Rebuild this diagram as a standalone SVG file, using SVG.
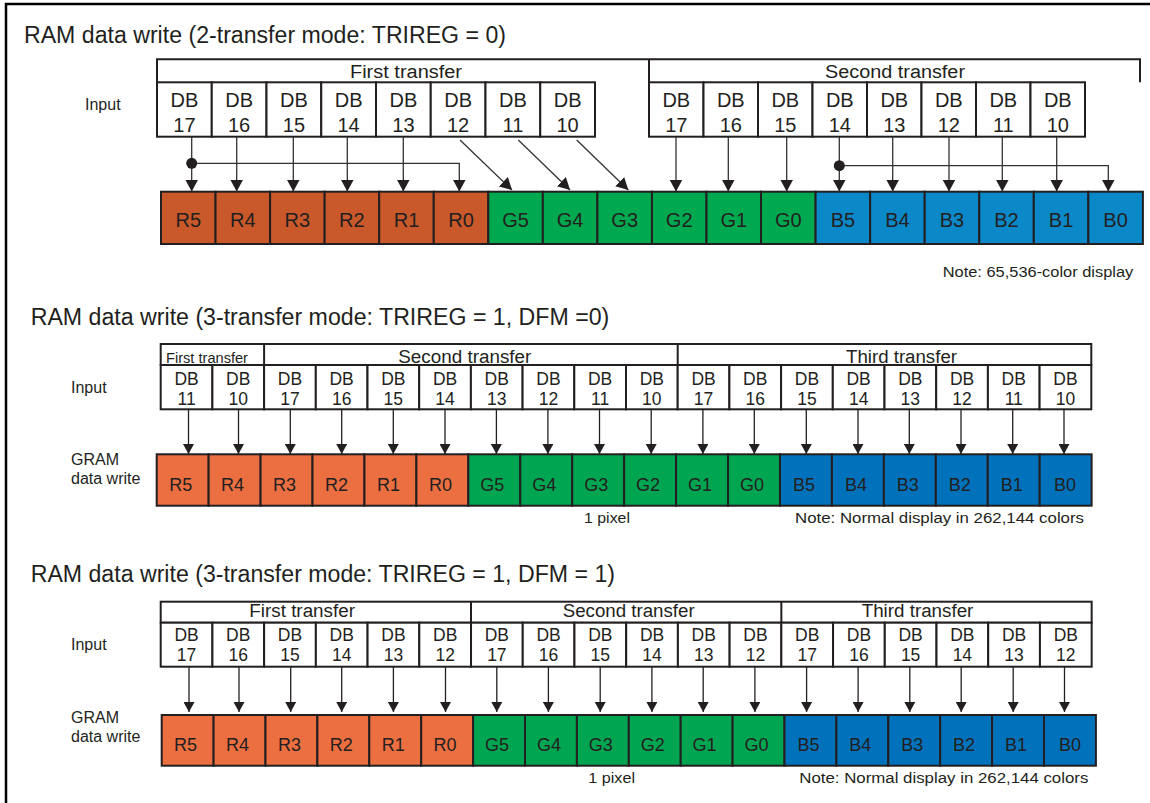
<svg xmlns="http://www.w3.org/2000/svg" width="1150" height="803" viewBox="0 0 1150 803">
<style>
.t{font-family:"Liberation Sans",Arial,Helvetica,sans-serif;fill:#231F20}
.title{font-size:23px}
.lbl{font-size:16px}
.hd{font-size:18px}
.db{font-size:20px;text-anchor:middle}
.db2{font-size:17.5px;text-anchor:middle}
.cl{font-size:20px;text-anchor:middle}
.cl2{font-size:18px;text-anchor:middle}
.note{font-size:15.5px}
.box{fill:#fff;stroke:#231F20;stroke-width:2}
.r1{fill:#C9582B;stroke:#231F20;stroke-width:2}
.g1{fill:#00A94F;stroke:#231F20;stroke-width:2}
.b1{fill:#0A88C8;stroke:#231F20;stroke-width:2}
.r2{fill:#EC6F41;stroke:#231F20;stroke-width:2}
.g2{fill:#00A551;stroke:#231F20;stroke-width:2}
.b2{fill:#0072BC;stroke:#231F20;stroke-width:2}
.ln{stroke:#231F20;stroke-width:2;fill:none}
.c1{stroke:#333;stroke-width:1.3;fill:none;marker-end:url(#ah1)}
.c2{stroke:#231F20;stroke-width:1.3;fill:none;marker-end:url(#ah2)}
</style>
<defs>
<marker id="ah1" markerUnits="userSpaceOnUse" markerWidth="12" markerHeight="13" viewBox="0 0 12 13" refX="12" refY="6.5" orient="auto"><path d="M0,0 L12,6.5 L0,13z" fill="#231F20"/></marker>
<marker id="ah2" markerUnits="userSpaceOnUse" markerWidth="10" markerHeight="11" viewBox="0 0 10 11" refX="10" refY="5.5" orient="auto"><path d="M0,0 L10,5.5 L0,11z" fill="#231F20"/></marker>
</defs>
<rect width="1150" height="803" fill="#fff"/>
<path d="M6,803 V4 H1150" fill="none" stroke="#000" stroke-width="2.5"/>

<!-- ============ Section 1 ============ -->
<g id="sec1">
<text class="t title" x="24" y="42.7" textLength="482" lengthAdjust="spacingAndGlyphs">RAM data write (2-transfer mode: TRIREG = 0)</text>
<text class="t lbl" x="85" y="110">Input</text>
<g id="s1-header">
<path class="ln" d="M157,82.3 V59.3 H1140 V82.3"/>
<line class="ln" x1="649" y1="59.3" x2="649" y2="82.3"/>
<text class="t hd" x="350" y="78.3" textLength="112" lengthAdjust="spacingAndGlyphs">First transfer</text>
<text class="t hd" x="825" y="78.3" textLength="140" lengthAdjust="spacingAndGlyphs">Second transfer</text>
</g>
<g id="s1-in-1a"><rect class="box" x="157" y="82.3" width="54.75" height="54.4"/><text class="t db" x="184.4" y="107">DB</text><text class="t db" x="184.4" y="131.5">17</text></g>
<g id="s1-in-1b"><rect class="box" x="211.75" y="82.3" width="54.75" height="54.4"/><text class="t db" x="239.1" y="107">DB</text><text class="t db" x="239.1" y="131.5">16</text></g>
<g id="s1-in-1c"><rect class="box" x="266.5" y="82.3" width="54.75" height="54.4"/><text class="t db" x="293.9" y="107">DB</text><text class="t db" x="293.9" y="131.5">15</text></g>
<g id="s1-in-1d"><rect class="box" x="321.25" y="82.3" width="54.75" height="54.4"/><text class="t db" x="348.6" y="107">DB</text><text class="t db" x="348.6" y="131.5">14</text></g>
<g id="s1-in-1e"><rect class="box" x="376" y="82.3" width="54.75" height="54.4"/><text class="t db" x="403.4" y="107">DB</text><text class="t db" x="403.4" y="131.5">13</text></g>
<g id="s1-in-1f"><rect class="box" x="430.75" y="82.3" width="54.75" height="54.4"/><text class="t db" x="458.1" y="107">DB</text><text class="t db" x="458.1" y="131.5">12</text></g>
<g id="s1-in-1g"><rect class="box" x="485.5" y="82.3" width="54.75" height="54.4"/><text class="t db" x="512.9" y="107">DB</text><text class="t db" x="512.9" y="131.5">11</text></g>
<g id="s1-in-1h"><rect class="box" x="540.25" y="82.3" width="54.75" height="54.4"/><text class="t db" x="567.6" y="107">DB</text><text class="t db" x="567.6" y="131.5">10</text></g>
<g id="s1-in-2a"><rect class="box" x="649" y="82.3" width="54.5" height="54.4"/><text class="t db" x="676.3" y="107">DB</text><text class="t db" x="676.3" y="131.5">17</text></g>
<g id="s1-in-2b"><rect class="box" x="703.5" y="82.3" width="54.5" height="54.4"/><text class="t db" x="730.8" y="107">DB</text><text class="t db" x="730.8" y="131.5">16</text></g>
<g id="s1-in-2c"><rect class="box" x="758" y="82.3" width="54.5" height="54.4"/><text class="t db" x="785.3" y="107">DB</text><text class="t db" x="785.3" y="131.5">15</text></g>
<g id="s1-in-2d"><rect class="box" x="812.5" y="82.3" width="54.5" height="54.4"/><text class="t db" x="839.8" y="107">DB</text><text class="t db" x="839.8" y="131.5">14</text></g>
<g id="s1-in-2e"><rect class="box" x="867" y="82.3" width="54.5" height="54.4"/><text class="t db" x="894.3" y="107">DB</text><text class="t db" x="894.3" y="131.5">13</text></g>
<g id="s1-in-2f"><rect class="box" x="921.5" y="82.3" width="54.5" height="54.4"/><text class="t db" x="948.8" y="107">DB</text><text class="t db" x="948.8" y="131.5">12</text></g>
<g id="s1-in-2g"><rect class="box" x="976" y="82.3" width="54.5" height="54.4"/><text class="t db" x="1003.3" y="107">DB</text><text class="t db" x="1003.3" y="131.5">11</text></g>
<g id="s1-in-2h"><rect class="box" x="1030.5" y="82.3" width="54.5" height="54.4"/><text class="t db" x="1057.8" y="107">DB</text><text class="t db" x="1057.8" y="131.5">10</text></g>

<g id="s1-R5"><rect class="r1" x="161" y="191.7" width="54.55" height="52.3"/><text class="t cl" x="188.3" y="226.7">R5</text></g>
<g id="s1-R4"><rect class="r1" x="215.55" y="191.7" width="54.55" height="52.3"/><text class="t cl" x="242.8" y="226.7">R4</text></g>
<g id="s1-R3"><rect class="r1" x="270.1" y="191.7" width="54.55" height="52.3"/><text class="t cl" x="297.4" y="226.7">R3</text></g>
<g id="s1-R2"><rect class="r1" x="324.65" y="191.7" width="54.55" height="52.3"/><text class="t cl" x="351.9" y="226.7">R2</text></g>
<g id="s1-R1"><rect class="r1" x="379.2" y="191.7" width="54.55" height="52.3"/><text class="t cl" x="406.5" y="226.7">R1</text></g>
<g id="s1-R0"><rect class="r1" x="433.75" y="191.7" width="54.55" height="52.3"/><text class="t cl" x="461" y="226.7">R0</text></g>
<g id="s1-G5"><rect class="g1" x="488.3" y="191.7" width="54.55" height="52.3"/><text class="t cl" x="515.6" y="226.7">G5</text></g>
<g id="s1-G4"><rect class="g1" x="542.85" y="191.7" width="54.55" height="52.3"/><text class="t cl" x="570.1" y="226.7">G4</text></g>
<g id="s1-G3"><rect class="g1" x="597.4" y="191.7" width="54.55" height="52.3"/><text class="t cl" x="624.7" y="226.7">G3</text></g>
<g id="s1-G2"><rect class="g1" x="651.95" y="191.7" width="54.55" height="52.3"/><text class="t cl" x="679.2" y="226.7">G2</text></g>
<g id="s1-G1"><rect class="g1" x="706.5" y="191.7" width="54.55" height="52.3"/><text class="t cl" x="733.8" y="226.7">G1</text></g>
<g id="s1-G0"><rect class="g1" x="761.05" y="191.7" width="54.55" height="52.3"/><text class="t cl" x="788.3" y="226.7">G0</text></g>
<g id="s1-B5"><rect class="b1" x="815.6" y="191.7" width="54.55" height="52.3"/><text class="t cl" x="842.9" y="226.7">B5</text></g>
<g id="s1-B4"><rect class="b1" x="870.15" y="191.7" width="54.55" height="52.3"/><text class="t cl" x="897.4" y="226.7">B4</text></g>
<g id="s1-B3"><rect class="b1" x="924.7" y="191.7" width="54.55" height="52.3"/><text class="t cl" x="952" y="226.7">B3</text></g>
<g id="s1-B2"><rect class="b1" x="979.25" y="191.7" width="54.55" height="52.3"/><text class="t cl" x="1006.5" y="226.7">B2</text></g>
<g id="s1-B1"><rect class="b1" x="1033.8" y="191.7" width="54.55" height="52.3"/><text class="t cl" x="1061.1" y="226.7">B1</text></g>
<g id="s1-B0"><rect class="b1" x="1088.35" y="191.7" width="54.55" height="52.3"/><text class="t cl" x="1115.6" y="226.7">B0</text></g>
<text class="t note" x="942.7" y="276.7" textLength="190.6" lengthAdjust="spacingAndGlyphs">Note: 65,536-color display</text>
</g>

<g id="s1-connectors">
<line class="c1" x1="191.7" y1="137" x2="191.7" y2="191.5"/>
<line class="c1" x1="236.7" y1="137" x2="236.7" y2="191.5"/>
<line class="c1" x1="293.3" y1="137" x2="293.3" y2="191.5"/>
<line class="c1" x1="347.3" y1="137" x2="347.3" y2="191.5"/>
<line class="c1" x1="403.3" y1="137" x2="403.3" y2="191.5"/>
<path class="c1" d="M191.7,163.3 H459.3 V191.5"/>
<circle cx="191.7" cy="163.3" r="5.5" fill="#231F20"/>
<line class="c1" x1="460" y1="140" x2="512" y2="190"/>
<line class="c1" x1="518.3" y1="140" x2="570" y2="190"/>
<line class="c1" x1="576.7" y1="140" x2="628.3" y2="190"/>
<line class="c1" x1="676" y1="137" x2="676" y2="191.5"/>
<line class="c1" x1="728.3" y1="137" x2="728.3" y2="191.5"/>
<line class="c1" x1="786.7" y1="137" x2="786.7" y2="191.5"/>
<line class="c1" x1="839.3" y1="137" x2="839.3" y2="191.5"/>
<path class="c1" d="M839.3,165.7 H1108.3 V191.5"/>
<circle cx="839.3" cy="165.7" r="5.5" fill="#231F20"/>
<line class="c1" x1="892.7" y1="137" x2="892.7" y2="191.5"/>
<line class="c1" x1="949" y1="137" x2="949" y2="191.5"/>
<line class="c1" x1="1002.3" y1="137" x2="1002.3" y2="191.5"/>
<line class="c1" x1="1056.7" y1="137" x2="1056.7" y2="191.5"/>
</g>

<!-- ============ Section 2 ============ -->
<g id="sec2">
<text class="t title" x="30.7" y="325" textLength="578.6" lengthAdjust="spacingAndGlyphs">RAM data write (3-transfer mode: TRIREG = 1, DFM =0)</text>
<text class="t lbl" x="71" y="393.3">Input</text>
<text class="t lbl" x="71" y="465">GRAM</text>
<text class="t lbl" x="71" y="484">data write</text>
<g id="s2-header">
<rect class="box" x="160.7" y="344" width="930.6" height="21"/>
<line class="ln" x1="264.1" y1="344" x2="264.1" y2="365"/>
<line class="ln" x1="677.7" y1="344" x2="677.7" y2="365"/>
<text class="t" style="font-size:14px" x="166" y="362.7" textLength="82" lengthAdjust="spacingAndGlyphs">First transfer</text>
<text class="t hd" x="398.3" y="362.7" textLength="133" lengthAdjust="spacingAndGlyphs">Second transfer</text>
<text class="t hd" x="846" y="362.7" textLength="111" lengthAdjust="spacingAndGlyphs">Third transfer</text>
</g>
<g id="s2-in-01"><rect class="box" x="160.7" y="365" width="51.7" height="44.3"/><text class="t db2" x="186.55" y="384.5">DB</text><text class="t db2" x="186.55" y="405">11</text></g>
<g id="s2-in-02"><rect class="box" x="212.4" y="365" width="51.7" height="44.3"/><text class="t db2" x="238.25" y="384.5">DB</text><text class="t db2" x="238.25" y="405">10</text></g>
<g id="s2-in-03"><rect class="box" x="264.1" y="365" width="51.7" height="44.3"/><text class="t db2" x="289.95" y="384.5">DB</text><text class="t db2" x="289.95" y="405">17</text></g>
<g id="s2-in-04"><rect class="box" x="315.8" y="365" width="51.7" height="44.3"/><text class="t db2" x="341.65" y="384.5">DB</text><text class="t db2" x="341.65" y="405">16</text></g>
<g id="s2-in-05"><rect class="box" x="367.5" y="365" width="51.7" height="44.3"/><text class="t db2" x="393.35" y="384.5">DB</text><text class="t db2" x="393.35" y="405">15</text></g>
<g id="s2-in-06"><rect class="box" x="419.2" y="365" width="51.7" height="44.3"/><text class="t db2" x="445.05" y="384.5">DB</text><text class="t db2" x="445.05" y="405">14</text></g>
<g id="s2-in-07"><rect class="box" x="470.9" y="365" width="51.7" height="44.3"/><text class="t db2" x="496.75" y="384.5">DB</text><text class="t db2" x="496.75" y="405">13</text></g>
<g id="s2-in-08"><rect class="box" x="522.6" y="365" width="51.7" height="44.3"/><text class="t db2" x="548.45" y="384.5">DB</text><text class="t db2" x="548.45" y="405">12</text></g>
<g id="s2-in-09"><rect class="box" x="574.3" y="365" width="51.7" height="44.3"/><text class="t db2" x="600.15" y="384.5">DB</text><text class="t db2" x="600.15" y="405">11</text></g>
<g id="s2-in-10"><rect class="box" x="626" y="365" width="51.7" height="44.3"/><text class="t db2" x="651.85" y="384.5">DB</text><text class="t db2" x="651.85" y="405">10</text></g>
<g id="s2-in-11"><rect class="box" x="677.7" y="365" width="51.7" height="44.3"/><text class="t db2" x="703.55" y="384.5">DB</text><text class="t db2" x="703.55" y="405">17</text></g>
<g id="s2-in-12"><rect class="box" x="729.4" y="365" width="51.7" height="44.3"/><text class="t db2" x="755.25" y="384.5">DB</text><text class="t db2" x="755.25" y="405">16</text></g>
<g id="s2-in-13"><rect class="box" x="781.1" y="365" width="51.7" height="44.3"/><text class="t db2" x="806.95" y="384.5">DB</text><text class="t db2" x="806.95" y="405">15</text></g>
<g id="s2-in-14"><rect class="box" x="832.8" y="365" width="51.7" height="44.3"/><text class="t db2" x="858.65" y="384.5">DB</text><text class="t db2" x="858.65" y="405">14</text></g>
<g id="s2-in-15"><rect class="box" x="884.5" y="365" width="51.7" height="44.3"/><text class="t db2" x="910.35" y="384.5">DB</text><text class="t db2" x="910.35" y="405">13</text></g>
<g id="s2-in-16"><rect class="box" x="936.2" y="365" width="51.7" height="44.3"/><text class="t db2" x="962.05" y="384.5">DB</text><text class="t db2" x="962.05" y="405">12</text></g>
<g id="s2-in-17"><rect class="box" x="987.9" y="365" width="51.7" height="44.3"/><text class="t db2" x="1013.75" y="384.5">DB</text><text class="t db2" x="1013.75" y="405">11</text></g>
<g id="s2-in-18"><rect class="box" x="1039.6" y="365" width="51.7" height="44.3"/><text class="t db2" x="1065.45" y="384.5">DB</text><text class="t db2" x="1065.45" y="405">10</text></g>

<g id="s2-R5"><rect class="r2" x="156.7" y="454.3" width="51.94" height="51.4"/><text class="t cl2" x="180.7" y="490.7">R5</text></g>
<g id="s2-R4"><rect class="r2" x="208.64" y="454.3" width="51.94" height="51.4"/><text class="t cl2" x="232.6" y="490.7">R4</text></g>
<g id="s2-R3"><rect class="r2" x="260.58" y="454.3" width="51.94" height="51.4"/><text class="t cl2" x="284.5" y="490.7">R3</text></g>
<g id="s2-R2"><rect class="r2" x="312.52" y="454.3" width="51.94" height="51.4"/><text class="t cl2" x="336.5" y="490.7">R2</text></g>
<g id="s2-R1"><rect class="r2" x="364.46" y="454.3" width="51.94" height="51.4"/><text class="t cl2" x="388.4" y="490.7">R1</text></g>
<g id="s2-R0"><rect class="r2" x="416.4" y="454.3" width="51.94" height="51.4"/><text class="t cl2" x="440.4" y="490.7">R0</text></g>
<g id="s2-G5"><rect class="g2" x="468.34" y="454.3" width="51.94" height="51.4"/><text class="t cl2" x="492.3" y="490.7">G5</text></g>
<g id="s2-G4"><rect class="g2" x="520.28" y="454.3" width="51.94" height="51.4"/><text class="t cl2" x="544.2" y="490.7">G4</text></g>
<g id="s2-G3"><rect class="g2" x="572.22" y="454.3" width="51.94" height="51.4"/><text class="t cl2" x="596.2" y="490.7">G3</text></g>
<g id="s2-G2"><rect class="g2" x="624.16" y="454.3" width="51.94" height="51.4"/><text class="t cl2" x="648.1" y="490.7">G2</text></g>
<g id="s2-G1"><rect class="g2" x="676.1" y="454.3" width="51.94" height="51.4"/><text class="t cl2" x="700.1" y="490.7">G1</text></g>
<g id="s2-G0"><rect class="g2" x="728.04" y="454.3" width="51.94" height="51.4"/><text class="t cl2" x="752" y="490.7">G0</text></g>
<g id="s2-B5"><rect class="b2" x="779.98" y="454.3" width="51.94" height="51.4"/><text class="t cl2" x="804" y="490.7">B5</text></g>
<g id="s2-B4"><rect class="b2" x="831.92" y="454.3" width="51.94" height="51.4"/><text class="t cl2" x="855.9" y="490.7">B4</text></g>
<g id="s2-B3"><rect class="b2" x="883.86" y="454.3" width="51.94" height="51.4"/><text class="t cl2" x="907.8" y="490.7">B3</text></g>
<g id="s2-B2"><rect class="b2" x="935.8" y="454.3" width="51.94" height="51.4"/><text class="t cl2" x="959.8" y="490.7">B2</text></g>
<g id="s2-B1"><rect class="b2" x="987.74" y="454.3" width="51.94" height="51.4"/><text class="t cl2" x="1011.7" y="490.7">B1</text></g>
<g id="s2-B0"><rect class="b2" x="1039.68" y="454.3" width="51.94" height="51.4"/><text class="t cl2" x="1065" y="490.7">B0</text></g>
<text class="t note" x="584" y="522.7" textLength="46" lengthAdjust="spacingAndGlyphs">1 pixel</text>
<text class="t note" x="795" y="523.3" textLength="289" lengthAdjust="spacingAndGlyphs">Note: Normal display in 262,144 colors</text>
</g>

<g id="s2-connectors">
<line class="c2" x1="188.5" y1="409.3" x2="188.5" y2="454"/>
<line class="c2" x1="238.5" y1="409.3" x2="238.5" y2="454"/>
<line class="c2" x1="290.3" y1="409.3" x2="290.3" y2="454"/>
<line class="c2" x1="341.7" y1="409.3" x2="341.7" y2="454"/>
<line class="c2" x1="393.3" y1="409.3" x2="393.3" y2="454"/>
<line class="c2" x1="445" y1="409.3" x2="445" y2="454"/>
<line class="c2" x1="496.4" y1="409.3" x2="496.4" y2="454"/>
<line class="c2" x1="547.9" y1="409.3" x2="547.9" y2="454"/>
<line class="c2" x1="599.5" y1="409.3" x2="599.5" y2="454"/>
<line class="c2" x1="651.2" y1="409.3" x2="651.2" y2="454"/>
<line class="c2" x1="702.9" y1="409.3" x2="702.9" y2="454"/>
<line class="c2" x1="754.3" y1="409.3" x2="754.3" y2="454"/>
<line class="c2" x1="806.3" y1="409.3" x2="806.3" y2="454"/>
<line class="c2" x1="858" y1="409.3" x2="858" y2="454"/>
<line class="c2" x1="909.3" y1="409.3" x2="909.3" y2="454"/>
<line class="c2" x1="961" y1="409.3" x2="961" y2="454"/>
<line class="c2" x1="1012.7" y1="409.3" x2="1012.7" y2="454"/>
<line class="c2" x1="1064" y1="409.3" x2="1064" y2="454"/>
</g>

<!-- ============ Section 3 ============ -->
<g id="sec3">
<text class="t title" x="30.7" y="581.7" textLength="584.3" lengthAdjust="spacingAndGlyphs">RAM data write (3-transfer mode: TRIREG = 1, DFM = 1)</text>
<text class="t lbl" x="71" y="650">Input</text>
<text class="t lbl" x="71" y="722.7">GRAM</text>
<text class="t lbl" x="71" y="741.7">data write</text>
<g id="s3-header">
<rect class="box" x="160.7" y="601.7" width="930.96" height="21"/>
<line class="ln" x1="471.02" y1="601.7" x2="471.02" y2="622.7"/>
<line class="ln" x1="781.34" y1="601.7" x2="781.34" y2="622.7"/>
<text class="t hd" x="249.3" y="616.7" textLength="105.7" lengthAdjust="spacingAndGlyphs">First transfer</text>
<text class="t hd" x="562.7" y="616.7" textLength="132" lengthAdjust="spacingAndGlyphs">Second transfer</text>
<text class="t hd" x="861.7" y="616.7" textLength="111.7" lengthAdjust="spacingAndGlyphs">Third transfer</text>
</g>
<g id="s3-in-01"><rect class="box" x="160.7" y="622.7" width="51.72" height="44"/><text class="t db2" x="186.56" y="640.5">DB</text><text class="t db2" x="186.56" y="661">17</text></g>
<g id="s3-in-02"><rect class="box" x="212.42" y="622.7" width="51.72" height="44"/><text class="t db2" x="238.28" y="640.5">DB</text><text class="t db2" x="238.28" y="661">16</text></g>
<g id="s3-in-03"><rect class="box" x="264.14" y="622.7" width="51.72" height="44"/><text class="t db2" x="290" y="640.5">DB</text><text class="t db2" x="290" y="661">15</text></g>
<g id="s3-in-04"><rect class="box" x="315.86" y="622.7" width="51.72" height="44"/><text class="t db2" x="341.72" y="640.5">DB</text><text class="t db2" x="341.72" y="661">14</text></g>
<g id="s3-in-05"><rect class="box" x="367.58" y="622.7" width="51.72" height="44"/><text class="t db2" x="393.44" y="640.5">DB</text><text class="t db2" x="393.44" y="661">13</text></g>
<g id="s3-in-06"><rect class="box" x="419.3" y="622.7" width="51.72" height="44"/><text class="t db2" x="445.16" y="640.5">DB</text><text class="t db2" x="445.16" y="661">12</text></g>
<g id="s3-in-07"><rect class="box" x="471.02" y="622.7" width="51.72" height="44"/><text class="t db2" x="496.88" y="640.5">DB</text><text class="t db2" x="496.88" y="661">17</text></g>
<g id="s3-in-08"><rect class="box" x="522.74" y="622.7" width="51.72" height="44"/><text class="t db2" x="548.6" y="640.5">DB</text><text class="t db2" x="548.6" y="661">16</text></g>
<g id="s3-in-09"><rect class="box" x="574.46" y="622.7" width="51.72" height="44"/><text class="t db2" x="600.32" y="640.5">DB</text><text class="t db2" x="600.32" y="661">15</text></g>
<g id="s3-in-10"><rect class="box" x="626.18" y="622.7" width="51.72" height="44"/><text class="t db2" x="652.04" y="640.5">DB</text><text class="t db2" x="652.04" y="661">14</text></g>
<g id="s3-in-11"><rect class="box" x="677.9" y="622.7" width="51.72" height="44"/><text class="t db2" x="703.76" y="640.5">DB</text><text class="t db2" x="703.76" y="661">13</text></g>
<g id="s3-in-12"><rect class="box" x="729.62" y="622.7" width="51.72" height="44"/><text class="t db2" x="755.48" y="640.5">DB</text><text class="t db2" x="755.48" y="661">12</text></g>
<g id="s3-in-13"><rect class="box" x="781.34" y="622.7" width="51.72" height="44"/><text class="t db2" x="807.2" y="640.5">DB</text><text class="t db2" x="807.2" y="661">17</text></g>
<g id="s3-in-14"><rect class="box" x="833.06" y="622.7" width="51.72" height="44"/><text class="t db2" x="858.92" y="640.5">DB</text><text class="t db2" x="858.92" y="661">16</text></g>
<g id="s3-in-15"><rect class="box" x="884.78" y="622.7" width="51.72" height="44"/><text class="t db2" x="910.64" y="640.5">DB</text><text class="t db2" x="910.64" y="661">15</text></g>
<g id="s3-in-16"><rect class="box" x="936.5" y="622.7" width="51.72" height="44"/><text class="t db2" x="962.36" y="640.5">DB</text><text class="t db2" x="962.36" y="661">14</text></g>
<g id="s3-in-17"><rect class="box" x="988.22" y="622.7" width="51.72" height="44"/><text class="t db2" x="1014.08" y="640.5">DB</text><text class="t db2" x="1014.08" y="661">13</text></g>
<g id="s3-in-18"><rect class="box" x="1039.94" y="622.7" width="51.72" height="44"/><text class="t db2" x="1065.8" y="640.5">DB</text><text class="t db2" x="1065.8" y="661">12</text></g>

<g id="s3-R5"><rect class="r2" x="161.7" y="715" width="51.9" height="50.7"/><text class="t cl2" x="185.6" y="750.7">R5</text></g>
<g id="s3-R4"><rect class="r2" x="213.6" y="715" width="51.9" height="50.7"/><text class="t cl2" x="237.5" y="750.7">R4</text></g>
<g id="s3-R3"><rect class="r2" x="265.5" y="715" width="51.9" height="50.7"/><text class="t cl2" x="289.4" y="750.7">R3</text></g>
<g id="s3-R2"><rect class="r2" x="317.4" y="715" width="51.9" height="50.7"/><text class="t cl2" x="341.3" y="750.7">R2</text></g>
<g id="s3-R1"><rect class="r2" x="369.3" y="715" width="51.9" height="50.7"/><text class="t cl2" x="393.2" y="750.7">R1</text></g>
<g id="s3-R0"><rect class="r2" x="421.2" y="715" width="51.9" height="50.7"/><text class="t cl2" x="445.1" y="750.7">R0</text></g>
<g id="s3-G5"><rect class="g2" x="473.1" y="715" width="51.9" height="50.7"/><text class="t cl2" x="497" y="750.7">G5</text></g>
<g id="s3-G4"><rect class="g2" x="525" y="715" width="51.9" height="50.7"/><text class="t cl2" x="548.9" y="750.7">G4</text></g>
<g id="s3-G3"><rect class="g2" x="576.9" y="715" width="51.9" height="50.7"/><text class="t cl2" x="600.8" y="750.7">G3</text></g>
<g id="s3-G2"><rect class="g2" x="628.8" y="715" width="51.9" height="50.7"/><text class="t cl2" x="652.7" y="750.7">G2</text></g>
<g id="s3-G1"><rect class="g2" x="680.7" y="715" width="51.9" height="50.7"/><text class="t cl2" x="704.6" y="750.7">G1</text></g>
<g id="s3-G0"><rect class="g2" x="732.6" y="715" width="51.9" height="50.7"/><text class="t cl2" x="756.5" y="750.7">G0</text></g>
<g id="s3-B5"><rect class="b2" x="784.5" y="715" width="51.9" height="50.7"/><text class="t cl2" x="808.4" y="750.7">B5</text></g>
<g id="s3-B4"><rect class="b2" x="836.4" y="715" width="51.9" height="50.7"/><text class="t cl2" x="860.3" y="750.7">B4</text></g>
<g id="s3-B3"><rect class="b2" x="888.3" y="715" width="51.9" height="50.7"/><text class="t cl2" x="912.2" y="750.7">B3</text></g>
<g id="s3-B2"><rect class="b2" x="940.2" y="715" width="51.9" height="50.7"/><text class="t cl2" x="964.1" y="750.7">B2</text></g>
<g id="s3-B1"><rect class="b2" x="992.1" y="715" width="51.9" height="50.7"/><text class="t cl2" x="1016" y="750.7">B1</text></g>
<g id="s3-B0"><rect class="b2" x="1044" y="715" width="51.9" height="50.7"/><text class="t cl2" x="1070" y="750.7">B0</text></g>
<text class="t note" x="588.3" y="782.7" textLength="46.7" lengthAdjust="spacingAndGlyphs">1 pixel</text>
<text class="t note" x="799.3" y="783.3" textLength="289" lengthAdjust="spacingAndGlyphs">Note: Normal display in 262,144 colors</text>
</g>

<g id="s3-connectors">
<line class="c2" x1="189" y1="666.7" x2="189" y2="712"/>
<line class="c2" x1="239" y1="666.7" x2="239" y2="712"/>
<line class="c2" x1="290.7" y1="666.7" x2="290.7" y2="712"/>
<line class="c2" x1="341.7" y1="666.7" x2="341.7" y2="712"/>
<line class="c2" x1="393.4" y1="666.7" x2="393.4" y2="712"/>
<line class="c2" x1="445.5" y1="666.7" x2="445.5" y2="712"/>
<line class="c2" x1="496.8" y1="666.7" x2="496.8" y2="712"/>
<line class="c2" x1="548.4" y1="666.7" x2="548.4" y2="712"/>
<line class="c2" x1="600.2" y1="666.7" x2="600.2" y2="712"/>
<line class="c2" x1="651.9" y1="666.7" x2="651.9" y2="712"/>
<line class="c2" x1="703.2" y1="666.7" x2="703.2" y2="712"/>
<line class="c2" x1="754.9" y1="666.7" x2="754.9" y2="712"/>
<line class="c2" x1="806.6" y1="666.7" x2="806.6" y2="712"/>
<line class="c2" x1="858.1" y1="666.7" x2="858.1" y2="712"/>
<line class="c2" x1="909.8" y1="666.7" x2="909.8" y2="712"/>
<line class="c2" x1="961.2" y1="666.7" x2="961.2" y2="712"/>
<line class="c2" x1="1013.2" y1="666.7" x2="1013.2" y2="712"/>
<line class="c2" x1="1064.5" y1="666.7" x2="1064.5" y2="712"/>
</g>
</svg>
